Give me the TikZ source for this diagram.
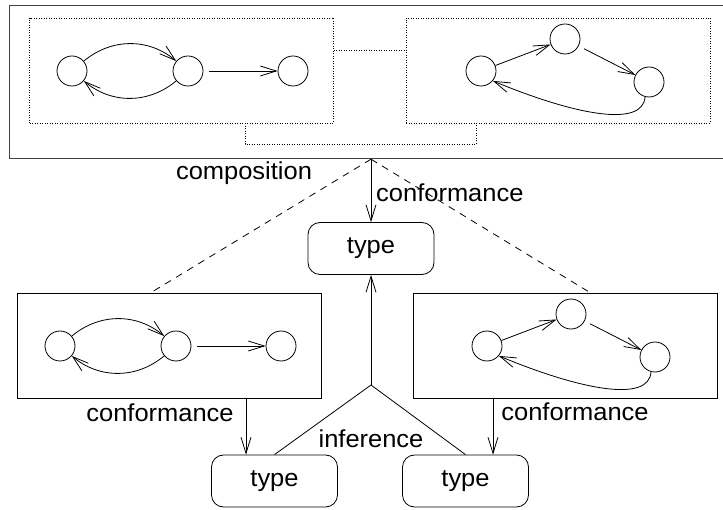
\documentclass[tikz,border=0pt]{standalone}
\usepackage{fontspec}
\setmainfont[FakeStretch=1.04]{Liberation Sans}
\usetikzlibrary{arrows.meta}
\begin{document}
\begin{tikzpicture}[x=1pt,y=-1pt,
  every node/.style={font=\fontsize{24.5}{28}\selectfont},
  st/.style={draw, circle, minimum size=30pt, inner sep=0pt, line width=0.8pt},
  ar/.style={line width=0.8pt, -{Straight Barb[length=16pt,width=10pt]}},
  typebox/.style={draw, rounded corners=12pt, minimum width=126pt, minimum height=52pt, line width=0.8pt},
  framebox/.style={draw, minimum width=304pt, minimum height=105pt, inner sep=0pt, line width=0.9pt},
  dotbox/.style={draw, dash pattern=on 1pt off 1.5pt, minimum width=304pt, minimum height=105pt, inner sep=0pt, line width=0.8pt},
  conn/.style={line width=0.8pt},
  lab/.style={inner sep=0pt}]
\path[use as bounding box] (0,0) rectangle (723,510);
\clip (0,0) rectangle (723,510);

% top frame
\node[draw, line width=1.2pt, draw=black!75, minimum width=726pt, minimum height=153pt, inner sep=0pt, anchor=north west] (topbox) at (9,5) {};
\node[dotbox] (LD) at (181.5,70.5) {};
\node[dotbox] (RD) at (558,70.5) {};
\draw[conn, dash pattern=on 1pt off 1.5pt] ([yshift=20.5pt]LD.east) -- ([yshift=20.5pt]RD.west);
\draw[conn, dash pattern=on 1pt off 1.5pt] ([xshift=63.5pt]LD.south) -- ++(0,21) -| ([xshift=-82pt]RD.south);

% top-left graph
\node[st] (c1) at (72,71) {};
\node[st] (c2) at (188,71) {};
\node[st] (c3) at (293,71) {};
\draw[ar] (c1) to[bend left=40] (c2);
\draw[ar] (c2) to[bend left=40] (c1);
\draw[ar, shorten <=6pt] (c2) -- (c3);

% top-right graph
\node[st] (d1) at (481,71) {};
\node[st] (d2) at (565,39) {};
\node[st] (d3) at (649,82) {};
\draw[ar] (d1) -- (d2);
\draw[ar, shorten <=6pt] (d2) -- (d3);
\draw[ar] (d3.-105) .. controls (643,128) and (575,115) .. (d1.-40);

% middle
\node[typebox] (T) at (371,248.5) {type};
\coordinate (apex) at (T.north |- topbox.south);
\draw[ar] (apex) -- (T.north);
\node[lab] at (244,173) {composition};
\node[lab, anchor=west] at (376,193) {conformance};

% lower frames
\node[framebox] (LB) at (169,345.5) {};
\node[framebox] (RB) at (565,345.5) {};
\draw[conn, dash pattern=on 7pt off 6pt] (apex) -- ([xshift=-18pt]LB.north);
\draw[conn, dash pattern=on 7pt off 6pt] (apex) -- ([xshift=25pt]RB.north);

% lower-left graph
\node[st] (e1) at (60,346) {};
\node[st] (e2) at (176,346) {};
\node[st] (e3) at (281,346) {};
\draw[ar] (e1) to[bend left=40] (e2);
\draw[ar] (e2) to[bend left=40] (e1);
\draw[ar, shorten <=6pt] (e2) -- (e3);

% lower-right graph
\node[st] (f1) at (487,346) {};
\node[st] (f2) at (571,314) {};
\node[st] (f3) at (655,357) {};
\draw[ar] (f1) -- (f2);
\draw[ar, shorten <=6pt] (f2) -- (f3);
\draw[ar] (f3.-105) .. controls (649,403) and (581,390) .. (f1.-40);

% bottom types
\node[typebox] (A) at (274.5,481) {type};
\node[typebox] (B) at (465.5,481) {type};
\draw[ar] ([xshift=77pt]LB.south) -- ([xshift=77pt]LB.south |- A.north);
\draw[ar] ([xshift=-72pt]RB.south) -- ([xshift=-72pt]RB.south |- B.north);
\node[lab] at (160,413) {conformance};
\node[lab] at (575,412) {conformance};

% inference
\coordinate (J) at (371,385);
\draw[ar] (J) -- (T.south);
\draw[conn] (J) -- (A.north);
\draw[conn] (J) -- (B.north);
\node[lab] at (371,439) {inference};
\end{tikzpicture}
\end{document}
